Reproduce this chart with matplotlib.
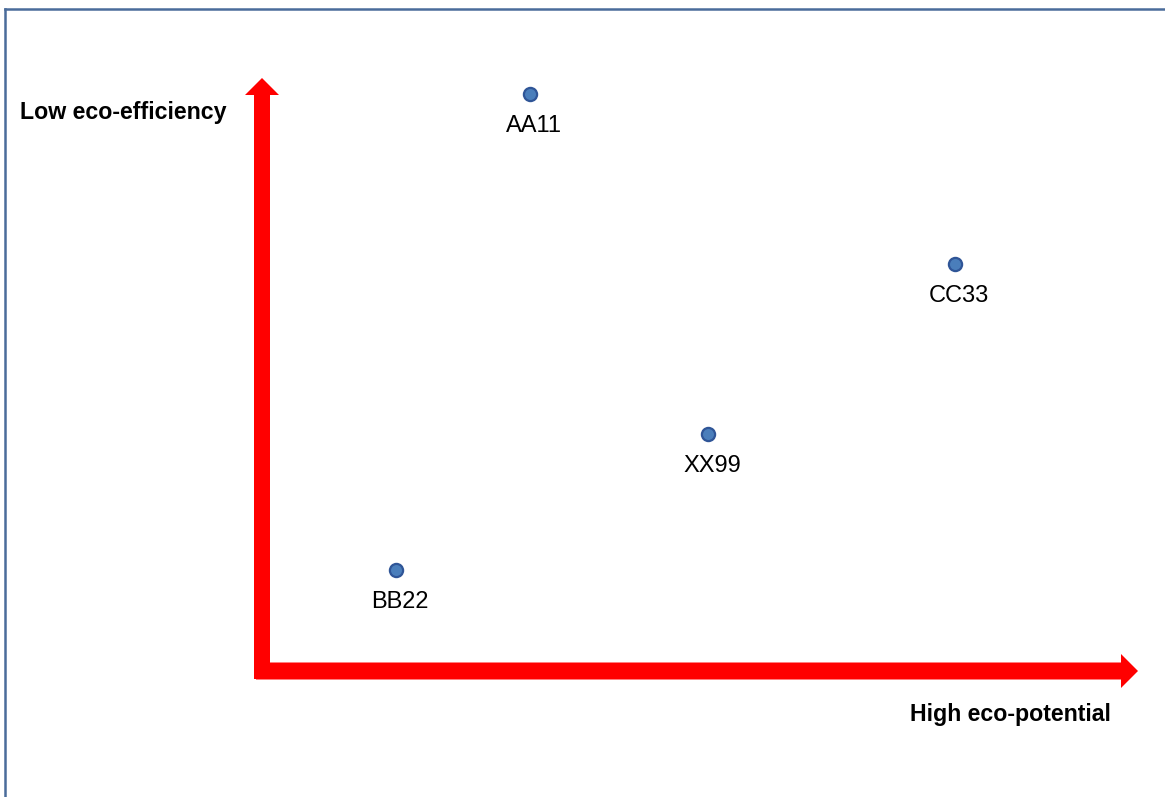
import matplotlib.pyplot as plt
import matplotlib.patches as mpatches
from matplotlib.lines import Line2D

plt.rcParams['font.family'] = ['Liberation Sans', 'DejaVu Sans']

# eco-potential (x) and eco-efficiency (y) scores per product
products = ["AA11", "BB22", "CC33", "XX99"]
eco_potential = [3.09, 1.54, 7.98, 5.14]
eco_efficiency = [9.86, 1.73, 6.96, 4.05]

W, H = 1165, 797
fig = plt.figure(figsize=(W / 100, H / 100), dpi=100)

# background layer in pixel units for the frame and the arrow axes
bg = fig.add_axes([0, 0, 1, 1])
bg.set_xlim(0, W)
bg.set_ylim(H, 0)
bg.axis("off")

# frame (left and top edges only)
bg.add_line(Line2D([5, 5], [H, 9], color="#4a6c9b", lw=1.8))
bg.add_line(Line2D([5, W], [9, 9], color="#4a6c9b", lw=1.8))

red = "#ff0000"
# vertical arrow
bg.add_patch(mpatches.FancyArrow(262, 679, 0, -601, width=16, head_width=34,
                                 head_length=17, length_includes_head=True,
                                 color=red, lw=0))
# horizontal arrow
bg.add_patch(mpatches.FancyArrow(256, 671, 882, 0, width=17, head_width=34,
                                 head_length=17, length_includes_head=True,
                                 color=red, lw=0))

bg.text(20, 112, "Low eco-efficiency", fontsize=16.7, fontweight="bold",
        ha="left", va="center")
bg.text(1111, 714, "High eco-potential", fontsize=16.7, fontweight="bold",
        ha="right", va="center")

# data axes: origin at the arrow corner
ax = fig.add_axes([262 / W, 1 - 671 / H, 868 / W, 585 / H])
ax.set_xlim(0, 10)
ax.set_ylim(0, 10)
ax.axis("off")
ax.patch.set_alpha(0)

ax.plot(eco_potential, eco_efficiency, "o", ms=9.5, color="#4a7ebb",
        markeredgecolor="#2f5597", markeredgewidth=1.6, linestyle="none")
for name, x, y in zip(products, eco_potential, eco_efficiency):
    ax.annotate(name, (x, y), xytext=(3, -15), textcoords="offset points",
                ha="center", va="top", fontsize=17)

fig.savefig("out.png", dpi=100)
